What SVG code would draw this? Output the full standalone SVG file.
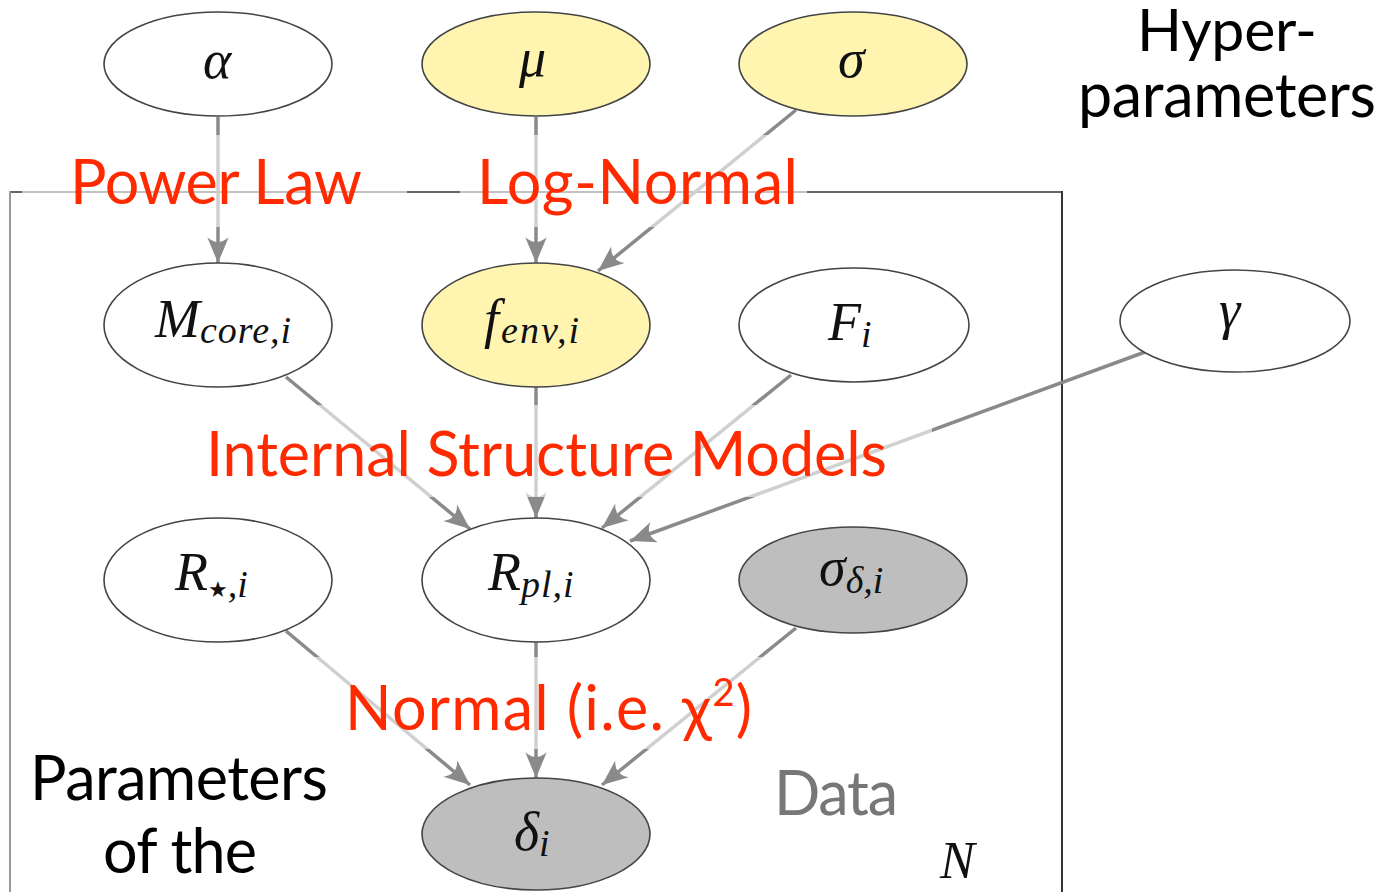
<svg xmlns="http://www.w3.org/2000/svg" width="1382" height="892" viewBox="0 0 1382 892">
  <style>
    .node ellipse { stroke: #444; stroke-width: 1.6; }
    .plain { fill: #ffffff; }
    .latent { fill: #fff5b1; }
    .observed { fill: #bebebe; }
    .math { font-family: "Liberation Serif", "DejaVu Serif", serif; font-style: italic; fill: #111; }
    .m { font-size: 54px; }
    .s { font-size: 38px; }
    .edge { stroke: #8a8a8a; stroke-width: 3.5; fill: none; marker-end: url(#arrow); }
    .veil { fill: #ffffff; fill-opacity: 0.6; }
    .note { font-family: "Lato", "Open Sans", "Liberation Sans", sans-serif; font-size: 61px; }
    .red { fill: #ff2a00; }
    .black { fill: #000000; }
    .grey { fill: #777777; }
  </style>
  <defs>
    <marker id="arrow" markerUnits="userSpaceOnUse" markerWidth="30" markerHeight="30" viewBox="-26 -12 28 24" refX="0" refY="0" orient="auto">
      <path d="M0,0 L-24,-10 Q-15,0 -24,10 Z" fill="#8a8a8a"/>
    </marker>
  </defs>

  <rect width="1382" height="892" fill="#ffffff"/>

  <!-- plate N -->
  <g id="plate" fill="none" stroke-width="2">
    <line x1="10" y1="192" x2="1062" y2="192" stroke="#666"/>
    <line x1="10" y1="191" x2="10" y2="892" stroke="#999"/>
    <line x1="1062" y1="191" x2="1062" y2="892" stroke="#333"/>
  </g>

  <!-- connectors -->
  <g id="edges">
    <line class="edge" x1="218" y1="117" x2="218" y2="263"/>
    <line class="edge" x1="536" y1="117" x2="536" y2="263"/>
    <line class="edge" x1="796" y1="110" x2="598" y2="271"/>
    <line class="edge" x1="286" y1="377" x2="470" y2="529"/>
    <line class="edge" x1="536" y1="387" x2="536" y2="518"/>
    <line class="edge" x1="791" y1="375" x2="602" y2="528"/>
    <line class="edge" x1="1145" y1="352" x2="630" y2="541"/>
    <line class="edge" x1="286" y1="631" x2="470" y2="785"/>
    <line class="edge" x1="536" y1="642" x2="536" y2="778"/>
    <line class="edge" x1="796" y1="628" x2="602" y2="785"/>
  </g>

  <!-- nodes -->
  <g id="n-alpha" class="node">
    <ellipse class="plain" cx="218" cy="64" rx="114" ry="52"/>
    <text class="math m" x="203" y="78">α</text>
  </g>
  <g id="n-mu" class="node">
    <ellipse class="latent" cx="536" cy="64" rx="114" ry="52"/>
    <text class="math m" x="519" y="76">μ</text>
  </g>
  <g id="n-sigma" class="node">
    <ellipse class="latent" cx="853" cy="64" rx="114" ry="52"/>
    <text class="math m" x="838" y="77">σ</text>
  </g>
  <g id="n-gamma" class="node">
    <ellipse class="plain" cx="1235" cy="321" rx="115" ry="51"/>
    <text class="math m" x="1219" y="328">γ</text>
  </g>
  <g id="n-mcore" class="node">
    <ellipse class="plain" cx="218" cy="325" rx="114" ry="62"/>
    <text class="math" x="155" y="337"><tspan class="m">M</tspan><tspan class="s" dy="6" letter-spacing="1">core,i</tspan></text>
  </g>
  <g id="n-fenv" class="node">
    <ellipse class="latent" cx="536" cy="325" rx="114" ry="62"/>
    <text class="math" x="484" y="337"><tspan class="m">f</tspan><tspan class="s" dx="2" dy="6" letter-spacing="2">env,i</tspan></text>
  </g>
  <g id="n-F" class="node">
    <ellipse class="plain" cx="854" cy="325" rx="115" ry="57"/>
    <text class="math" x="828" y="340"><tspan class="m">F</tspan><tspan class="s" dy="7">i</tspan></text>
  </g>
  <g id="n-Rstar" class="node">
    <ellipse class="plain" cx="218" cy="580" rx="114" ry="62"/>
    <text class="math" x="175" y="590"><tspan class="m">R</tspan><tspan dy="7" font-style="normal" font-family="DejaVu Sans, sans-serif" font-size="22px">★</tspan><tspan class="s">,i</tspan></text>
  </g>
  <g id="n-Rpl" class="node">
    <ellipse class="plain" cx="536" cy="580" rx="114" ry="62"/>
    <text class="math" x="488" y="590"><tspan class="m">R</tspan><tspan class="s" dy="7" letter-spacing="1">pl,i</tspan></text>
  </g>
  <g id="n-sigmad" class="node">
    <ellipse class="observed" cx="853" cy="580" rx="114" ry="53"/>
    <text class="math" x="819" y="585"><tspan class="m">σ</tspan><tspan class="s" dy="8">δ,i</tspan></text>
  </g>
  <g id="n-delta" class="node">
    <ellipse class="observed" cx="536" cy="834" rx="114" ry="56"/>
    <text class="math" x="514" y="850"><tspan class="m">δ</tspan><tspan class="s" dy="6">i</tspan></text>
  </g>

  <!-- text boxes that sit over the links -->
  <g id="label-boxes">
    <rect class="veil" x="22" y="135" width="385" height="92"/>
    <rect class="veil" x="460" y="135" width="347" height="92"/>
    <rect class="veil" x="160" y="405" width="772" height="92"/>
    <rect class="veil" x="300" y="657" width="500" height="92"/>
  </g>

  <!-- annotations -->
  <g id="annotations" class="note">
    <text class="red" x="70" y="204" textLength="292">Power Law</text>
    <text class="red" x="477" y="204" textLength="321">Log-Normal</text>
    <text class="red" x="206" y="476" textLength="681">Internal Structure Models</text>
    <text class="red" x="345" y="730" textLength="407">Normal (i.e. χ<tspan font-size="38px" dy="-24">2</tspan><tspan dy="24">)</tspan></text>
    <text class="black" x="1137" y="51" font-size="59px" textLength="180">Hyper-</text>
    <text class="black" x="1078" y="117" textLength="298">parameters</text>
    <text class="black" x="30" y="800" textLength="298">Parameters</text>
    <text class="black" x="103" y="873" textLength="154">of the</text>
    <text class="grey" x="774" y="815" textLength="124">Data</text>
    <text class="math" x="940" y="878" font-size="52px">N</text>
  </g>
</svg>
